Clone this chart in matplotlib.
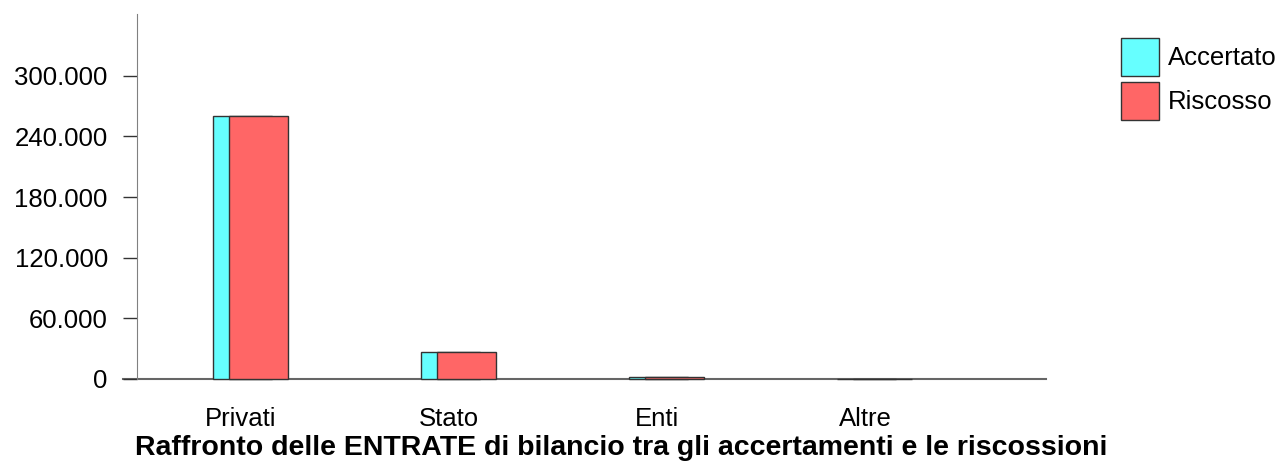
import numpy as np
import matplotlib
matplotlib.use("Agg")
from matplotlib import pyplot as plt
from matplotlib.ticker import FuncFormatter

plt.rcParams['font.family'] = ['Liberation Sans', 'DejaVu Sans']

# data
categories = ['Privati', 'Stato', 'Enti', 'Altre']
accertato = [260000, 26500, 1800, 200]
riscosso = [260000, 26500, 1800, 200]
series_names = ['Accertato', 'Riscosso']
colors = ['#66FFFF', '#FF6666']
yticks = [0, 60000, 120000, 180000, 240000, 300000]
title = 'Raffronto delle ENTRATE di bilancio tra gli accertamenti e le riscossioni'

fs = 18.5
px = fs * 100 / 72  # font size in pixels

fig = plt.figure(figsize=(12.8, 4.66), dpi=100)
ax = fig.add_axes([137 / 1280, 1 - 379 / 466, (1046 - 137) / 1280, (379 - 14) / 466])

x = np.arange(len(categories))
width = 0.284
# cyan bar behind, red bar shifted to the right
ax.bar(x - 0.135, accertato, width, align='edge', color=colors[0],
       edgecolor='#333333', linewidth=1, label=series_names[0], zorder=2, clip_on=False)
ax.bar(x - 0.058, riscosso, width, align='edge', color=colors[1],
       edgecolor='#333333', linewidth=1, label=series_names[1], zorder=3, clip_on=False)

ax.set_xlim(-0.5, 3.87)
ax.set_ylim(0, 361000)
ax.set_xticks(x)
ax.set_xticklabels(categories, fontsize=fs)
ax.set_yticks(yticks)
ax.yaxis.set_major_formatter(FuncFormatter(lambda v, p: f'{int(v):,}'.replace(',', '.')))
ax.tick_params(axis='y', labelsize=fs, length=10, width=1, color='#333333', pad=11)
ax.tick_params(axis='x', length=0, pad=20)

for s in ['top', 'right']:
    ax.spines[s].set_visible(False)
ax.spines['left'].set_color('#808080')
ax.spines['bottom'].set_color('#666666')
ax.spines['bottom'].set_linewidth(1.5)
ax.spines['bottom'].set_bounds(-0.5 - 14 / 208, 3.87)
ax.spines['bottom'].set_zorder(1)

# legend: 38x38 px squares
hh = (38 / px - 0.245) / 0.65
fig.legend(loc='upper left', bbox_to_anchor=(1121 / 1280, 1 - 38 / 466),
           fontsize=fs, frameon=False, borderpad=0, borderaxespad=0,
           handlelength=38 / px, handleheight=hh, labelspacing=6 / px,
           handletextpad=9 / px)

fig.text(621 / 1280, 1 - 455 / 466, title, fontsize=20.5, fontweight='bold',
         ha='center', va='baseline')

fig.savefig('out.png', dpi=100)
